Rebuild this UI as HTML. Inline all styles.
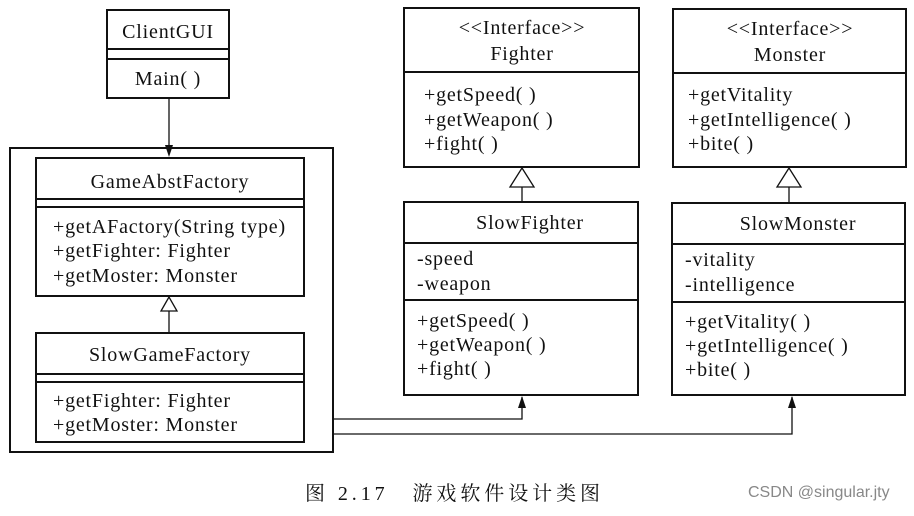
<!DOCTYPE html>
<html><head><meta charset="utf-8"><style>
body{margin:0;background:#fff}
svg text{font-family:"Liberation Serif","Noto Serif CJK SC",serif;font-size:20px;letter-spacing:0.8px;fill:#111}
</style></head><body>
<svg width="914" height="511" viewBox="0 0 914 511" xmlns="http://www.w3.org/2000/svg">
<g fill="none" stroke="#111" stroke-width="2">
<rect x="107" y="10" width="122" height="88"/>
<line x1="107" y1="49" x2="229" y2="49"/><line x1="107" y1="59" x2="229" y2="59"/>
<line x1="169" y1="98" x2="169" y2="150" stroke-width="1.3"/>
<rect x="10" y="148" width="323" height="304"/>
<rect x="36" y="158" width="268" height="138"/>
<line x1="36" y1="199" x2="304" y2="199"/><line x1="36" y1="207" x2="304" y2="207"/>
<polygon points="169,297 161,311 177,311" stroke-width="1.3"/>
<line x1="169" y1="311" x2="169" y2="333" stroke-width="1.3"/>
<rect x="36" y="333" width="268" height="109"/>
<line x1="36" y1="374" x2="304" y2="374"/><line x1="36" y1="382" x2="304" y2="382"/>
<rect x="404" y="8" width="235" height="159"/>
<line x1="404" y1="72" x2="639" y2="72"/>
<polygon points="522,168 510,187 534,187" stroke-width="1.3"/>
<line x1="522" y1="187" x2="522" y2="202" stroke-width="1.3"/>
<rect x="404" y="202" width="234" height="193"/>
<line x1="404" y1="243" x2="638" y2="243"/><line x1="404" y1="300" x2="638" y2="300"/>
<rect x="673" y="9" width="233" height="158"/>
<line x1="673" y1="73" x2="906" y2="73"/>
<polygon points="789,168 777,187 801,187" stroke-width="1.3"/>
<line x1="789" y1="187" x2="789" y2="203" stroke-width="1.3"/>
<rect x="672" y="203" width="233" height="192"/>
<line x1="672" y1="244" x2="905" y2="244"/><line x1="672" y1="302" x2="905" y2="302"/>
<polyline points="333,419 522,419 522,397" stroke-width="1.3"/>
<polyline points="333,434 792,434 792,397" stroke-width="1.3"/>
</g>
<g fill="#111">
<polygon points="169,157 165,145 173,145"/>
<polygon points="522,396 518,408 526,408"/>
<polygon points="792,396 788,408 796,408"/>
</g>
<g text-anchor="middle">
<text x="168" y="38">ClientGUI</text>
<text x="168" y="85">Main( )</text>
<text x="170" y="188">GameAbstFactory</text>
<text x="170" y="361">SlowGameFactory</text>
<text x="522" y="34">&lt;&lt;Interface&gt;&gt;</text>
<text x="522" y="60">Fighter</text>
<text x="530" y="229">SlowFighter</text>
<text x="790" y="35">&lt;&lt;Interface&gt;&gt;</text>
<text x="790" y="61">Monster</text>
<text x="798" y="230">SlowMonster</text>
</g>
<text x="53" y="233">+getAFactory(String type)</text>
<text x="53" y="257">+getFighter: Fighter</text>
<text x="53" y="282">+getMoster: Monster</text>
<text x="53" y="407">+getFighter: Fighter</text>
<text x="53" y="431">+getMoster: Monster</text>
<text x="424" y="101">+getSpeed( )</text>
<text x="424" y="126">+getWeapon( )</text>
<text x="424" y="150">+fight( )</text>
<text x="417" y="265">-speed</text>
<text x="417" y="290">-weapon</text>
<text x="417" y="327">+getSpeed( )</text>
<text x="417" y="351">+getWeapon( )</text>
<text x="417" y="375">+fight( )</text>
<text x="688" y="101">+getVitality</text>
<text x="688" y="126">+getIntelligence( )</text>
<text x="688" y="150">+bite( )</text>
<text x="685" y="266">-vitality</text>
<text x="685" y="291">-intelligence</text>
<text x="685" y="328">+getVitality( )</text>
<text x="685" y="352">+getIntelligence( )</text>
<text x="685" y="376">+bite( )</text>
<text x="305" y="500" style="font-size:20px;letter-spacing:0" textLength="295" lengthAdjust="spacing">图 2.17　游戏软件设计类图</text>
<text x="748" y="497" style="font-family:'Liberation Sans',sans-serif;font-size:16px;letter-spacing:0;fill:#888">CSDN @singular.jty</text>
</svg>
</body></html>
